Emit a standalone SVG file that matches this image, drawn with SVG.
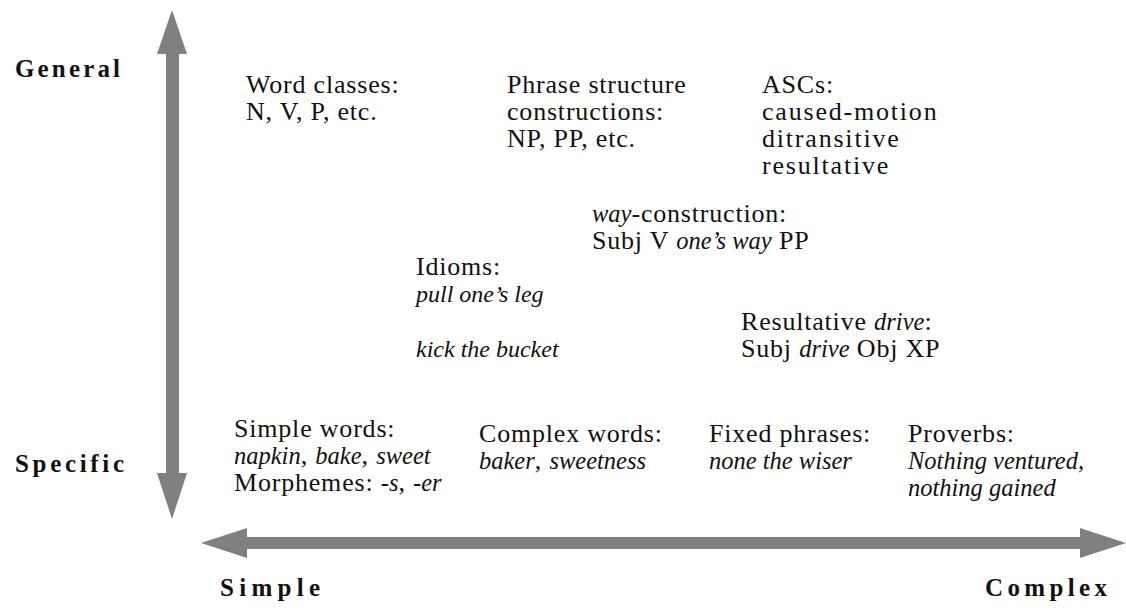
<svg xmlns="http://www.w3.org/2000/svg" width="1126" height="610" viewBox="0 0 1126 610">
<style>
.t{font-family:"Liberation Serif","DejaVu Serif",serif;font-size:26px;letter-spacing:0.8px;fill:#111}
.w{letter-spacing:1.8px}
.i{font-style:italic;font-size:24.5px;letter-spacing:0}
.s{font-size:24px}
.lab{font-family:"Liberation Serif","DejaVu Serif",serif;font-size:25px;font-weight:bold;fill:#111}
.ar{fill:#808080}
</style>
<rect width="1126" height="610" fill="#fff"/>
<g id="axes">
<path class="ar" d="M172,10 L187,54 L179,54 L179,473 L187,473 L172,519 L157,473 L166,473 L166,54 L157,54 Z"/>
<path class="ar" d="M201,543 L247,528 L247,537 L1080,537 L1080,528 L1126,543 L1080,558 L1080,549 L247,549 L247,558 Z"/>
</g>
<g id="labels">
<text class="lab" x="15" y="77" textLength="105" lengthAdjust="spacing">General</text>
<text class="lab" x="15" y="472" textLength="109" lengthAdjust="spacing">Specific</text>
<text class="lab" x="220" y="596" textLength="100" lengthAdjust="spacing">Simple</text>
<text class="lab" x="985" y="596" textLength="122" lengthAdjust="spacing">Complex</text>
</g>
<g id="word-classes" class="t">
<text x="246" y="93">Word classes:</text>
<text x="246" y="120">N, V, P, etc.</text>
</g>
<g id="phrase-structure" class="t">
<text x="507" y="93">Phrase structure</text>
<text x="507" y="120">constructions:</text>
<text x="507" y="147">NP, PP, etc.</text>
</g>
<g id="ascs" class="t">
<text x="762" y="93">ASCs:</text>
<text x="762" y="120" class="w">caused-motion</text>
<text x="762" y="147" class="w">ditransitive</text>
<text x="762" y="174" class="w">resultative</text>
</g>
<g id="way-construction" class="t">
<text x="592" y="222"><tspan class="i">way</tspan>-construction:</text>
<text x="592" y="249">Subj V <tspan class="i">one’s way</tspan> PP</text>
</g>
<g id="idioms" class="t">
<text x="416" y="275">Idioms:</text>
<text x="416" y="302" class="i s">pull one’s leg</text>
<text x="416" y="357" class="i s">kick the bucket</text>
</g>
<g id="resultative-drive" class="t">
<text x="741" y="330">Resultative <tspan class="i">drive</tspan>:</text>
<text x="741" y="357">Subj <tspan class="i">drive</tspan> Obj XP</text>
</g>
<g id="simple-words" class="t">
<text x="234" y="437">Simple words:</text>
<text x="234" y="464"><tspan class="i">napkin</tspan>, <tspan class="i">bake</tspan>, <tspan class="i">sweet</tspan></text>
<text x="234" y="491">Morphemes: <tspan class="i">-s</tspan>, <tspan class="i">-er</tspan></text>
</g>
<g id="complex-words" class="t">
<text x="479" y="442">Complex words:</text>
<text x="479" y="469"><tspan class="i">baker</tspan>, <tspan class="i">sweetness</tspan></text>
</g>
<g id="fixed-phrases" class="t">
<text x="709" y="442">Fixed phrases:</text>
<text x="709" y="469" class="i">none the wiser</text>
</g>
<g id="proverbs" class="t">
<text x="908" y="442">Proverbs:</text>
<text x="908" y="469" class="i">Nothing ventured,</text>
<text x="908" y="496" class="i">nothing gained</text>
</g>
</svg>
